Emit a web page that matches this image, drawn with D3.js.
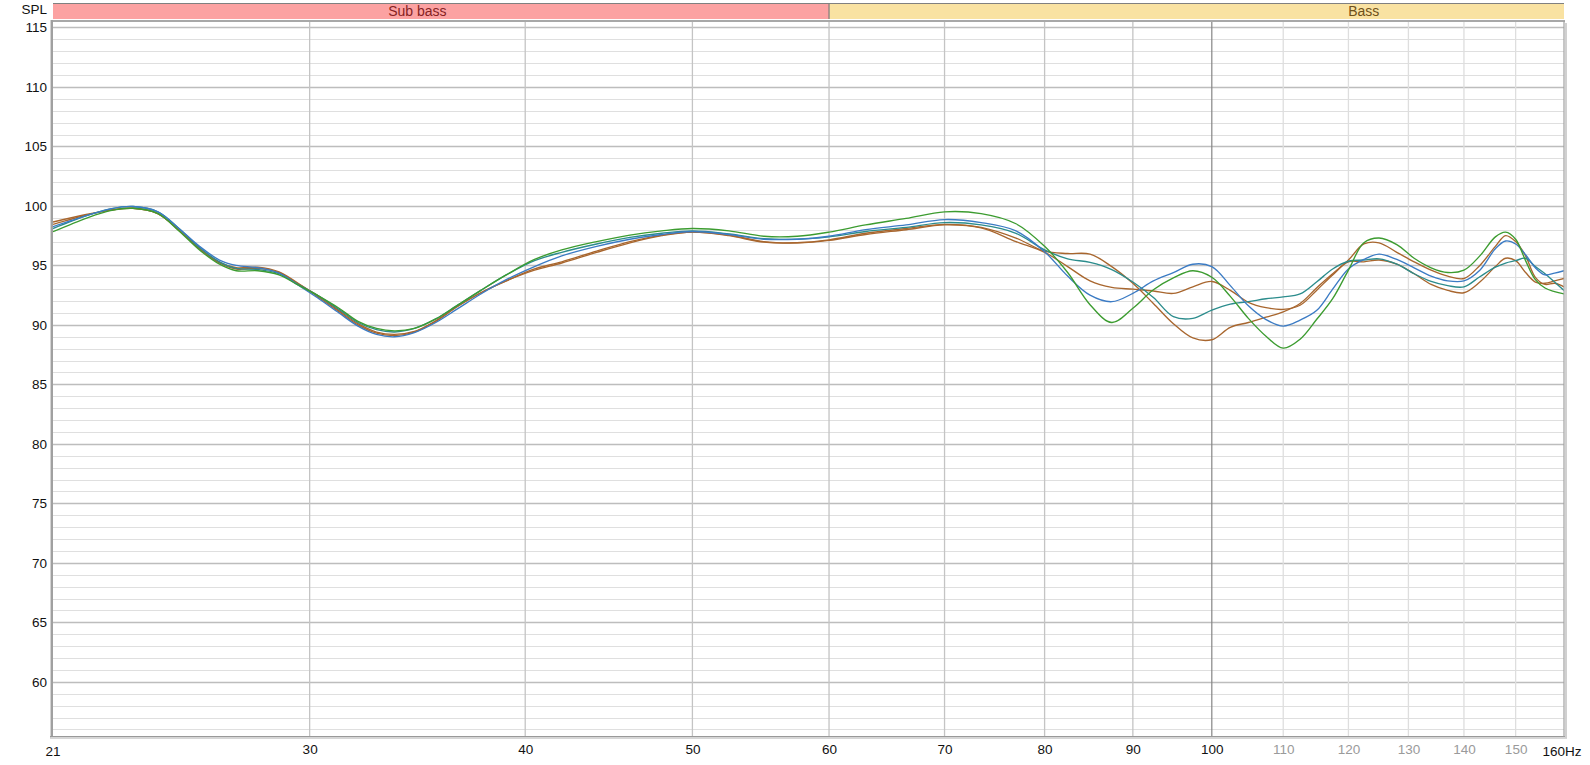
<!DOCTYPE html>
<html><head><meta charset="utf-8">
<script src="https://cdn.jsdelivr.net/npm/d3@7"></script>
<style>
body{margin:0;background:#fff;}
svg{display:block;}
text{font-family:"Liberation Sans",Arial,sans-serif;}
</style>
</head><body>
<svg id="chart" width="1590" height="765"></svg>
<script>
// ---- data ----
const freqs = [21.3,22.3,23.0,23.7,24.5,25.2,25.9,26.6,27.2,28.0,28.8,29.5,30.3,31.2,32.0,32.8,33.6,34.5,35.5,36.5,37.7,39.0,40.5,42.0,44.0,46.0,48.0,50.0,52.5,55.0,57.5,60.0,63.0,66.5,70.0,73.5,
  77,80,82.5,85,87.5,90,92.5,95,97.5,100,102.5,105,107.5,110,112.5,115,117.5,120,122.5,125,128,131,134,137,140,143,146,148,150,152,154,156,158,160];

const blueValues = [98.25,99.2,99.75,99.95,99.5,98.1,96.6,95.45,95.0,94.8,94.35,93.4,92.3,91.0,89.9,89.2,89.0,89.35,90.2,91.3,92.6,93.8,94.9,95.8,96.6,97.2,97.6,97.85,97.6,97.2,97.2,97.45,98.0,98.4,98.85,98.6,
  97.9,96.15,94.1,92.5,91.95,92.65,93.7,94.4,95.1,94.9,93.3,91.6,90.45,89.9,90.4,91.2,93.0,94.7,95.5,95.95,95.5,94.8,94.1,93.7,93.7,94.6,96.4,97.05,96.8,95.9,94.8,94.2,94.35,94.55];
const tealValues = [98.1,99.2,99.75,99.95,99.5,98.1,96.5,95.3,94.75,94.65,94.3,93.45,92.5,91.3,90.2,89.6,89.4,89.7,90.5,91.6,92.9,94.2,95.4,96.1,96.8,97.35,97.7,97.9,97.65,97.25,97.2,97.4,97.85,98.2,98.6,98.4,
  97.7,96.3,95.55,95.25,94.65,93.6,92.3,90.7,90.55,91.25,91.75,91.95,92.2,92.35,92.6,93.6,94.7,95.35,95.45,95.55,95.1,94.3,93.65,93.3,93.2,94.05,94.85,95.2,95.4,95.6,94.9,94.3,93.6,92.9];
const greenValues = [97.83,99.0,99.6,99.8,99.35,97.9,96.3,95.1,94.55,94.55,94.2,93.4,92.5,91.4,90.3,89.7,89.5,89.7,90.5,91.6,92.9,94.2,95.5,96.3,97.0,97.55,97.9,98.1,97.9,97.45,97.45,97.8,98.4,98.95,99.5,99.35,
  98.5,96.6,94.4,91.7,90.2,91.4,92.95,93.95,94.55,94.0,92.4,90.55,89.05,88.05,88.8,90.45,92.2,94.6,96.9,97.3,96.75,95.6,94.8,94.4,94.6,95.8,97.4,97.8,97.2,95.4,93.8,93.1,92.8,92.6];
const brownAValues = [98.65,99.3,99.65,99.8,99.35,97.95,96.4,95.25,94.8,94.85,94.45,93.55,92.4,91.1,90.0,89.3,89.1,89.4,90.3,91.5,92.7,93.7,94.6,95.2,96.1,96.9,97.5,97.8,97.5,96.95,96.9,97.15,97.7,98.1,98.45,98.2,
  97.3,96.2,96.0,95.95,94.9,93.5,91.8,90.1,88.9,88.75,89.8,90.2,90.65,91.1,91.8,93.1,94.3,95.45,96.8,96.9,96.1,95.3,94.6,94.1,93.9,95.0,96.6,97.5,97.0,95.8,94.0,93.4,93.5,93.2];
const brownBValues = [98.45,99.25,99.65,99.8,99.35,97.95,96.4,95.2,94.7,94.75,94.4,93.5,92.5,91.2,90.1,89.4,89.2,89.45,90.35,91.5,92.7,93.7,94.7,95.3,96.2,97.0,97.55,97.8,97.55,97.0,96.9,97.1,97.6,98.0,98.4,98.15,
  97.0,96.1,94.9,93.7,93.15,93.0,92.85,92.65,93.2,93.65,92.9,91.9,91.45,91.3,91.65,92.9,94.2,95.3,95.3,95.45,95.1,94.3,93.4,92.9,92.7,93.6,94.9,95.6,95.4,94.4,93.6,93.5,93.7,93.9];

const seriesNames = ["brownB","brownA","teal","blue","green"];
const seriesColors = ["#a8662e","#a8662e","#2b8c8c","#3b7bc4","#3c9c30"];
const seriesData = [brownBValues, brownAValues, tealValues, blueValues, greenValues];

const yMajorTicks = [60,65,70,75,80,85,90,95,100,105,110,115];
const xTicks = [30,40,50,60,70,80,90,100,110,120,130,140,150];
const xMutedTicks = [110,120,130,140,150];
const xEdgeLabels = ["21","160Hz"];
const bandNames = ["Sub bass","Bass"];
const bandFrom = [20,60];
const bandTo = [60,250];
const bandColors = ["#fca2a2","#f9e2a2"];
const bandTextColors = ["#862222","#6e5018"];

// ---- layout ----
const L=53, R=1564, T=21, B=736;
const svg = d3.select("#chart");
const x = d3.scaleLog().domain([21.3,160]).range([L,R]);
const y = d3.scaleLinear().domain([55.45,115.54]).range([B,T]);
const FS = 13.5;

svg.append("rect").attr("width",1590).attr("height",765).attr("fill","#fff");

// band bar
const bands = svg.append("g");
bandNames.forEach((n,i)=>{
  const x0 = Math.max(L, x(bandFrom[i])), x1 = Math.min(R, x(bandTo[i]));
  bands.append("rect").attr("x",x0).attr("y",3).attr("width",x1-x0).attr("height",16).attr("fill",bandColors[i]);
  bands.append("text").attr("x", x(Math.sqrt(bandFrom[i]*bandTo[i]))).attr("y",15.5)
    .attr("text-anchor","middle").attr("font-size",14).attr("fill",bandTextColors[i]).text(n);
  if(i>0) bands.append("line").attr("x1",x0).attr("x2",x0).attr("y1",3).attr("y2",19).attr("stroke","#7a7a7a").attr("stroke-width",1.2);
});
bands.append("line").attr("x1",L).attr("x2",R).attr("y1",3.5).attr("y2",3.5).attr("stroke","#808080").attr("stroke-width",1);

// grid
const grid = svg.append("g");
d3.range(56,116).forEach(v=>{
  const major = v%5===0;
  grid.append("line").attr("x1",L).attr("x2",R).attr("y1",Math.round(y(v))+0.5).attr("y2",Math.round(y(v))+0.5)
    .attr("stroke", major ? "#bdbdbd" : "#dfdfdf").attr("stroke-width", major?1.3:1);
});
xTicks.forEach(f=>{
  let c = "#c4c4c4";
  if (f===100) c = "#858585";
  else if (xMutedTicks.includes(f)) c = "#dedede";
  grid.append("line").attr("x1",x(f)).attr("x2",x(f)).attr("y1",T).attr("y2",B)
    .attr("stroke",c).attr("stroke-width", f===100?1.2:1.3);
});

// curves
svg.append("clipPath").attr("id","clip").append("rect").attr("x",L).attr("y",T).attr("width",R-L).attr("height",B-T);
const line = d3.line().x(d=>x(d[0])).y(d=>y(d[1])).curve(d3.curveCatmullRom.alpha(0.5));
const curves = svg.append("g").attr("clip-path","url(#clip)");
seriesData.forEach((vals,i)=>{
  curves.append("path").datum(freqs.map((f,j)=>[f,vals[j]]))
    .attr("fill","none").attr("stroke",seriesColors[i]).attr("stroke-width",1.35).attr("d",line);
});

// frame with shadow
const fr = svg.append("g");
fr.append("line").attr("x1",L-3).attr("x2",R+1).attr("y1",21).attr("y2",21).attr("stroke","#a8a8a8").attr("stroke-width",2);
fr.append("line").attr("x1",50.5).attr("x2",50.5).attr("y1",20).attr("y2",B+2).attr("stroke","#d4d4d4").attr("stroke-width",1);
fr.append("line").attr("x1",52).attr("x2",52).attr("y1",20).attr("y2",B+1).attr("stroke","#a0a0a0").attr("stroke-width",2);
fr.append("line").attr("x1",L-3).attr("x2",R+2).attr("y1",B+0.5).attr("y2",B+0.5).attr("stroke","#999").attr("stroke-width",1.2);
fr.append("line").attr("x1",L-3).attr("x2",R+3).attr("y1",B+2).attr("y2",B+2).attr("stroke","#c8c8c8").attr("stroke-width",1.5);
fr.append("line").attr("x1",R).attr("x2",R).attr("y1",T).attr("y2",B+1).attr("stroke","#a0a0a0").attr("stroke-width",1.2);
fr.append("line").attr("x1",R+2).attr("x2",R+2).attr("y1",T+2).attr("y2",B+2).attr("stroke","#d0d0d0").attr("stroke-width",2);

// y axis labels
const yAxis = d3.axisLeft(y).tickValues(yMajorTicks).tickSize(0).tickPadding(0);
const gy = svg.append("g").attr("transform","translate(47,0)").call(yAxis);
gy.select(".domain").remove();
gy.selectAll("text").attr("font-size",FS).attr("fill","#111").attr("font-family","Liberation Sans, Arial, sans-serif");
svg.append("text").attr("x",47).attr("y",14).attr("text-anchor","end").attr("font-size",FS).attr("fill","#111").text("SPL");

// x axis labels
const xAxis = d3.axisBottom(x).tickValues(xTicks).tickSize(0).tickPadding(0).tickFormat(d3.format("d"));
const gx = svg.append("g").attr("transform","translate(0,744)").call(xAxis);
gx.select(".domain").remove();
gx.selectAll("text").attr("font-size",FS).attr("font-family","Liberation Sans, Arial, sans-serif")
  .attr("fill", d => xMutedTicks.includes(d) ? "#9a9a9a" : "#111");
svg.append("text").attr("x",x(21.3)).attr("y",756).attr("text-anchor","middle").attr("font-size",FS).attr("fill","#111").text(xEdgeLabels[0]);
svg.append("text").attr("x",R-2).attr("y",756).attr("text-anchor","middle").attr("font-size",FS).attr("fill","#111").text(xEdgeLabels[1]);
</script>
</body></html>
